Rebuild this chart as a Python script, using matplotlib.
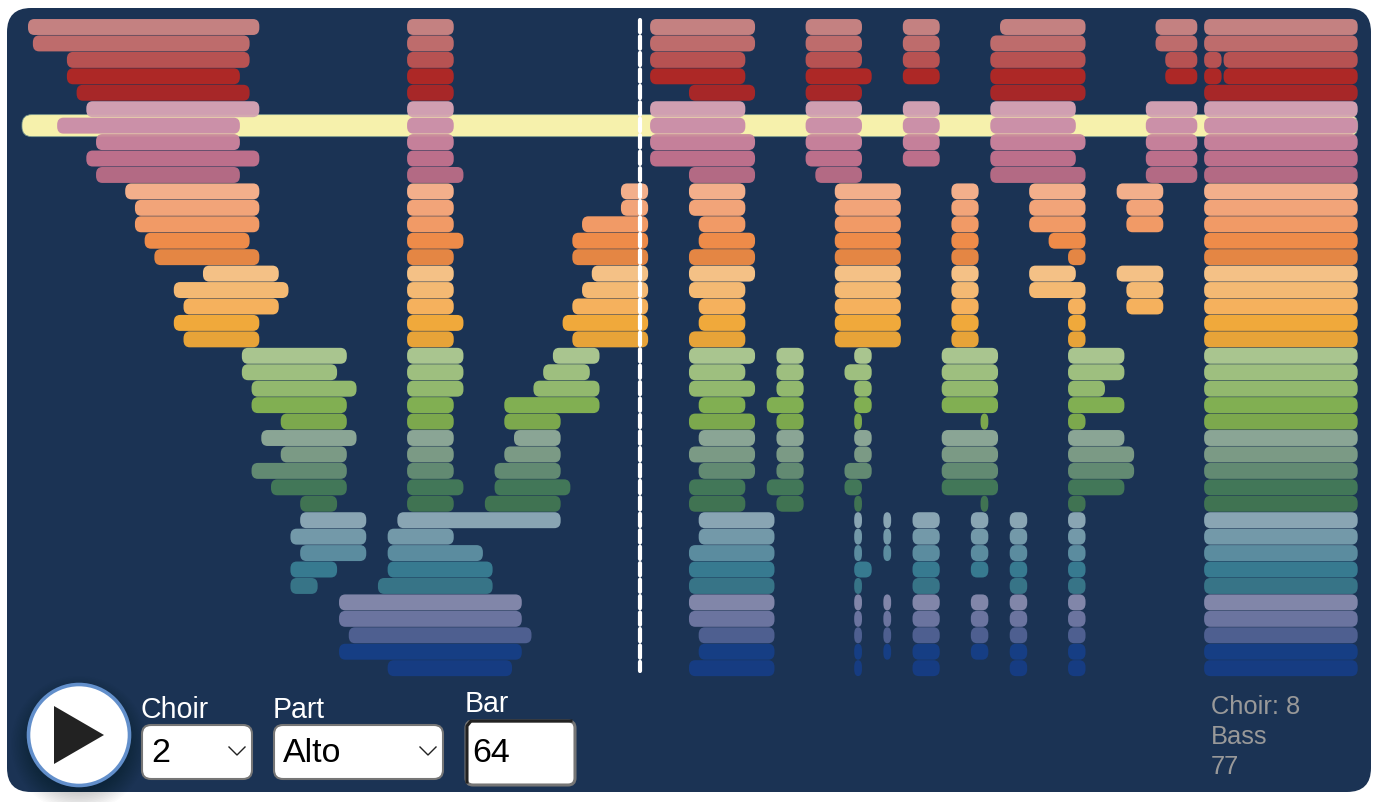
import matplotlib
matplotlib.use('Agg')
import matplotlib.pyplot as plt
from matplotlib.patches import FancyBboxPatch, Circle, Polygon

plt.rcParams['font.family'] = ['Liberation Sans', 'DejaVu Sans']

# (first bar, bar after last) of every note, one list per part, top part first
choir1 = [
    [(1, 25), (40, 45), (65, 76), (81, 87), (91, 95), (101, 110), (117, 121.5), (122, 138)],
    [(1.5, 24), (40, 45), (65, 76), (81, 87), (91, 95), (100, 110), (117, 121.5), (122, 138)],
    [(5, 24), (40, 45), (65, 75), (81, 87), (91, 95), (100, 110), (118, 121.5), (122, 124), (124, 138)],
    [(5, 23), (40, 45), (65, 75), (81, 88), (91, 95), (100, 110), (118, 121.5), (122, 124), (124, 138)],
    [(6, 24), (40, 45), (69, 76), (81, 87), (100, 110), (122, 138)],
]
choir2 = [
    [(7, 25), (40, 45), (65, 75), (81, 87), (91, 95), (100, 109), (116, 121.5), (122, 138)],
    [(4, 23), (40, 45), (65, 75), (81, 87), (91, 95), (100, 109), (116, 121.5), (122, 138)],
    [(8, 23), (40, 45), (65, 76), (81, 87), (91, 95), (100, 110), (116, 121.5), (122, 138)],
    [(7, 25), (40, 45), (65, 76), (81, 87), (91, 95), (100, 109), (116, 121.5), (122, 138)],
    [(8, 23), (40, 46), (69, 76), (82, 87), (100, 110), (116, 121.5), (122, 138)],
]
choir3 = [
    [(11, 25), (40, 45), (62, 65), (69, 75), (84, 91), (96, 99), (104, 110), (113, 118), (122, 138)],
    [(12, 25), (40, 45), (62, 65), (69, 75), (84, 91), (96, 99), (104, 110), (114, 118), (122, 138)],
    [(12, 25), (40, 45), (58, 65), (70, 75), (84, 91), (96, 99), (104, 110), (114, 118), (122, 138)],
    [(13, 24), (40, 46), (57, 65), (70, 76), (84, 91), (96, 99), (106, 110), (122, 138)],
    [(14, 25), (40, 45), (57, 65), (69, 76), (84, 91), (96, 99), (108, 110), (122, 138)],
]
choir4 = [
    [(19, 27), (40, 45), (59, 65), (69, 76), (84, 91), (96, 99), (104, 109), (113, 118), (122, 138)],
    [(16, 28), (40, 45), (58, 65), (69, 75), (84, 91), (96, 99), (104, 110), (114, 118), (122, 138)],
    [(17, 27), (40, 45), (57, 65), (70, 75), (84, 91), (96, 99), (108, 110), (114, 118), (122, 138)],
    [(16, 25), (40, 46), (56, 65), (70, 75), (84, 91), (96, 99), (108, 110), (122, 138)],
    [(17, 25), (40, 45), (57, 65), (69, 75), (84, 91), (96, 99), (108, 110), (122, 138)],
]
choir5 = [
    [(23, 34), (40, 46), (55, 60), (69, 76), (78, 81), (86, 88), (95, 101), (108, 114), (122, 138)],
    [(23, 33), (40, 46), (54, 59), (69, 75), (78, 81), (85, 88), (95, 101), (108, 114), (122, 138)],
    [(24, 35), (40, 46), (53, 60), (69, 76), (78, 81), (86, 88), (95, 101), (108, 112), (122, 138)],
    [(24, 34), (40, 45), (50, 60), (70, 75), (77, 81), (86, 88), (95, 101), (108, 114), (122, 138)],
    [(27, 34), (40, 45), (50, 56), (69, 76), (78, 81), (86, 87), (99, 100), (108, 110), (122, 138)],
]
choir6 = [
    [(25, 35), (40, 45), (51, 56), (70, 76), (78, 81), (86, 88), (95, 101), (108, 114), (122, 138)],
    [(27, 34), (40, 45), (50, 56), (69, 76), (78, 81), (86, 88), (95, 101), (108, 115), (122, 138)],
    [(24, 34), (40, 45), (49, 56), (70, 76), (78, 81), (85, 88), (95, 101), (108, 115), (122, 138)],
    [(26, 34), (40, 46), (49, 57), (69, 75), (77, 81), (85, 87), (95, 101), (108, 114), (122, 138)],
    [(29, 33), (40, 45), (48, 56), (69, 75), (78, 81), (86, 87), (99, 100), (108, 110), (122, 138)],
]
choir7 = [
    [(29, 36), (39, 56), (70, 78), (86, 87), (89, 90), (92, 95), (98, 100), (102, 104), (108, 110), (122, 138)],
    [(28, 36), (38, 45), (70, 78), (86, 87), (89, 90), (92, 95), (98, 100), (102, 104), (108, 110), (122, 138)],
    [(29, 36), (38, 48), (69, 78), (86, 87), (89, 90), (92, 95), (98, 100), (102, 104), (108, 110), (122, 138)],
    [(28, 33), (38, 49), (69, 78), (86, 88), (92, 95), (98, 100), (102, 104), (108, 110), (122, 138)],
    [(28, 31), (37, 49), (69, 78), (86, 87), (92, 95), (102, 104), (108, 110), (122, 138)],
]
choir8 = [
    [(33, 52), (69, 78), (86, 87), (89, 90), (92, 95), (98, 100), (102, 104), (108, 110), (122, 138)],
    [(33, 52), (69, 78), (86, 87), (89, 90), (92, 95), (98, 100), (102, 104), (108, 110), (122, 138)],
    [(34, 53), (70, 78), (86, 87), (89, 90), (92, 95), (98, 100), (102, 104), (108, 110), (122, 138)],
    [(33, 52), (70, 78), (86, 87), (89, 90), (92, 95), (98, 100), (102, 104), (108, 110), (122, 138)],
    [(38, 51), (69, 78), (86, 87), (92, 95), (102, 104), (108, 110), (122, 138)],
]
choirs = [choir1, choir2, choir3, choir4, choir5, choir6, choir7, choir8]

part_colors = [
    '#C48181', '#BE6C6C', '#B75252', '#AD2826', '#A72728',
    '#D09FB1', '#C683A8', '#C5809A', '#BC6F8B', '#B36A84',
    '#F3AF8B', '#F2A479', '#F19A66', '#EE8B49', '#E48644',
    '#F4C186', '#F4B973', '#F5B15D', '#F0A93B', '#E7A338',
    '#A9C58F', '#9EBF7F', '#92B86E', '#81AF52', '#7CA84D',
    '#8AA595', '#7B9A85', '#628A72', '#427758', '#407352',
    '#89A5B3', '#7399A9', '#5B8C9F', '#377A90', '#377487',
    '#8186A9', '#6B749F', '#4E5F90', '#163E84', '#163C82',
]

current_bar = 64
current_row = 6
select_choir = '2'
select_part = 'Alto'
info_lines = ['Choir: 8', 'Bass', '77']

W, H = 1376, 802
BAR_PX = 9.72
ROW_PX = 16.44
BAR_ZERO_PX = 18.28
ROW_ZERO_PX = 27
NAVY = '#1B3354'

fig = plt.figure(figsize=(W / 100, H / 100), dpi=100, facecolor='white')

# page layer, in pixels
ui = fig.add_axes([0, 0, 1, 1], zorder=0)
ui.set_xlim(0, W)
ui.set_ylim(H, 0)
ui.axis('off')

# roll layer, in bars and rows
roll = fig.add_axes([0, 0, 1, 1], zorder=1)
roll.set_xlim(-BAR_ZERO_PX / BAR_PX, (W - BAR_ZERO_PX) / BAR_PX)
roll.set_ylim((H - ROW_ZERO_PX) / ROW_PX, -ROW_ZERO_PX / ROW_PX)
roll.axis('off')


def note(x0, x1, row, color, height=0.97, zorder=3):
    width = x1 - x0 - 0.2
    rx = min(0.65, width / 2)
    ry_px = 7.0
    roll.add_patch(FancyBboxPatch((x0, row - height / 2), width, height,
                                  boxstyle='round,pad=0,rounding_size=%f' % rx,
                                  mutation_aspect=ry_px / ROW_PX / rx,
                                  fc=color, ec='none', zorder=zorder))


def box(x, y, w, h, r, fc, ec='none', lw=0, zorder=2):
    ui.add_patch(FancyBboxPatch((x, y), w, h, boxstyle='round,pad=0,rounding_size=%f' % r,
                                fc=fc, ec=ec, lw=lw, zorder=zorder))


def label(x, y, s, px, color='white'):
    ui.text(x, y, s, fontsize=px * 0.72, color=color, ha='left', va='center', zorder=6)


def chevron(cx, cy):
    ui.plot([cx - 8, cx, cx + 8], [cy - 4, cy + 4, cy - 4], color='#222222', lw=1.0, zorder=6)


box(7, 8, 1364, 784, 24, NAVY, zorder=1)

# highlighted part
roll.add_patch(FancyBboxPatch((0.38, current_row - 0.67), 137.42, 1.34,
                              boxstyle='round,pad=0,rounding_size=1.0',
                              mutation_aspect=0.6,
                              fc='#F6F1AC', ec='#6F8F8A', lw=0.6, zorder=2))

row = 0
for choir in choirs:
    for part in choir:
        for start, end in part:
            note(start, end, row, part_colors[row])
        row += 1

# translucent tint where the highlight runs under the neighbouring parts
roll.add_patch(FancyBboxPatch((0.38, current_row - 0.67), 137.42, 1.34,
                              boxstyle='round,pad=0,rounding_size=1.0',
                              mutation_aspect=0.6,
                              fc='#F6F1AC', ec='none', alpha=0.12, zorder=4))

roll.plot([current_bar, current_bar], [-0.4, 39.2], color='white', lw=3,
          dashes=(2.95, 1.0), dash_capstyle='round', zorder=5)

# play button
for i in range(16):
    ui.add_patch(Circle((79, 744), 68 - i * 1.6, fc='black', ec='none', alpha=0.014, zorder=3))
ui.add_patch(Circle((79, 735), 50.5, fc='white', ec='#628FCB', lw=2.6, zorder=4))
ui.add_patch(Polygon([(54, 706), (54, 764), (104, 735)], closed=True, fc='#222222', ec='none', zorder=5))

# controls
label(141, 710, 'Choir', 28.5)
label(273, 710, 'Part', 28.5)
label(465, 704, 'Bar', 28.5)

box(142, 725, 110, 54, 9, 'white', '#767676', 1.5, zorder=4)
label(151, 754, select_choir, 34, 'black')
chevron(237, 751)

box(274, 725, 169, 54, 9, 'white', '#767676', 1.5, zorder=4)
label(283, 754, select_part, 34, 'black')
chevron(428, 751)

box(466, 721, 109, 64, 7, 'white', '#767676', 2.2, zorder=4)
ui.plot([467, 467, 471, 571], [782, 726, 721, 721], color='#222222', lw=2.2, zorder=5)
label(472, 754, str(current_bar), 34, 'black')

for y, line in zip([707, 737, 767], info_lines):
    label(1211, y, line, 25.5, '#999999')

fig.savefig('out.png', dpi=100)
